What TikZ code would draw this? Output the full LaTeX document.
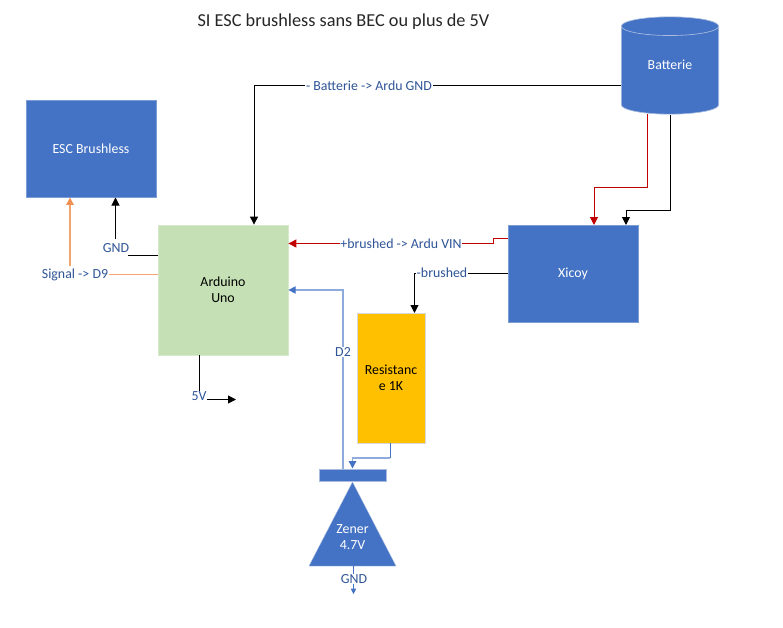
\documentclass[tikz,border=0pt]{standalone}
\usepackage{fontspec}
\setmainfont{Carlito}
\usetikzlibrary{shapes.geometric,arrows.meta}
\definecolor{mso}{HTML}{4472C4}
\definecolor{msoedge}{HTML}{A9BCE0}
\definecolor{lab}{HTML}{2F5597}
\definecolor{grn}{HTML}{C5E0B4}
\definecolor{yel}{HTML}{FFC000}
\definecolor{org}{HTML}{ED7D31}
\definecolor{rd}{HTML}{C00000}
\tikzset{
 every node/.style={font=\fontsize{10.4pt}{12pt}\selectfont},
 box/.style={rectangle,draw=#1!70!white,line width=.6pt,inner sep=0pt,align=center},
 bluebox/.style={box=mso,fill=mso,text=white},
 lbl/.style={fill=white,text=lab,inner sep=.6pt,outer sep=0pt},
 wire/.style={line width=.75pt,-{Triangle[length=6pt,width=6pt]}},
 plain/.style={line width=.75pt},
}
\begin{document}
\begin{tikzpicture}[x=0.75pt,y=-0.75pt]
\useasboundingbox (0,0) rectangle (783,628);
\node[font=\fontsize{13.7pt}{16pt}\selectfont,text=black!85] (title) at (343.5,22) {SI ESC brushless sans BEC ou plus de 5V};
\node[bluebox,minimum width=97.5pt,minimum height=72.75pt] (esc) at (91,148.5) {ESC Brushless};
\node[box=grn,fill=grn,minimum width=97.5pt,minimum height=97.5pt] (ard) at (223,290) {Arduino\\Uno};
\node[bluebox,minimum width=97.5pt,minimum height=72.75pt] (xic) at (573,273.5) {Xicoy};
\node[rectangle,fill=yel,draw=black!15,line width=.6pt,minimum width=51pt,minimum height=97.5pt,inner sep=0pt,anchor=north] (res) at (391,313) {};
\node[align=center] (restxt) at (391,378) {Resistanc\\e 1K};
\node[rectangle,fill=mso,draw=msoedge,line width=.3pt,inner sep=0pt,minimum width=50.5pt,minimum height=9pt] (bar) at (352.5,475) {};
\coordinate (zena) at (352.5,482);
\coordinate (zenb) at (353.5,566);
\fill[mso,draw=msoedge,line width=.3pt] (zena) -- (396,566) -- (309,566) -- cycle;
\node[text=white,align=center] (zentxt) at (352.5,537.5) {Zener\\4.7V};
\node[cylinder,shape border rotate=90,aspect=.42,fill=mso,draw=msoedge,line width=.5pt,inner sep=0pt,minimum width=73pt,minimum height=73pt,anchor=shape center] (bat) at (670,65.5) {\phantom{Batterie}};
\node[text=white] (battxt) at (670,65) {Batterie};
% labels
\node[lbl] (lbatt) at (369,85.5) {- Batterie -> Ardu GND};
\node[lbl] (lvin) at (401,243.5) {+brushed -> Ardu VIN};
\node[lbl] (lbr) at (442,273) {-brushed};
\node[lbl] (ld2) at (343,352) {D2};
\node[lbl] (lsig) at (75,274.5) {Signal -> D9};
\node[lbl] (lgnd) at (116,248) {GND};
\node[lbl] (l5v) at (199,396) {5V};
\node[lbl] (lzg) at (354,579) {GND};
\coordinate (end5v) at (236,399.5);
\coordinate (endzg) at (353.5,594);
% connectors
\draw[plain] (bat.west |- lbatt) -- (lbatt);
\draw[wire] (lbatt) -- (254,85.5) -- (ard.north -| 254,0);
\draw[wire,rd] (647,114) -- (647,187) -- (594,187) -- (594,225);
\draw[wire] (670,115) -- (670,210) -- (626,210) -- (626,225);
\draw[plain,rd] (xic.west |- 0,238.5) -- (493,238.5) -- (493,243.5) -- (lvin);
\draw[wire,rd] (lvin) -- (ard.east |- lvin);
\draw[plain] (xic.west |- lbr) -- (lbr);
\draw[wire] (lbr.west) -- (414.5,273) -- (414.5,313);
\draw[line width=1pt,mso!60!white] (bar.north -| ld2) -- (ld2);
\draw[line width=1pt,mso!60!white,-{Triangle[length=5.5pt,width=5.5pt,fill=mso,color=mso]}] (ld2) -- (343,290) -- (ard.east |- 0,290);
\draw[plain,mso] (390,443) -- (390,458);
\draw[line width=1pt,mso!60!white,-{Triangle[length=5.5pt,width=5.5pt,fill=mso,color=mso]}] (390,458) -- (352.5,458) -- (352.5,468.5);
\draw[line width=.9pt,org!70!white] (ard.west |- lsig) -- (lsig);
\draw[line width=1pt,org!70!white,-{Triangle[length=5.5pt,width=5.5pt,color=org!85!white]}] (70,266) -- (70,197.5);
\draw[plain] (ard.west |- 0,255) -- (128,255);
\draw[wire] (115.5,239) -- (115.5,197.5);
\draw[plain] (199,355) -- (l5v.north -| 199,0);
\draw[wire] (l5v.east |- end5v) -- (end5v);
\draw[plain,mso] (zenb) -- (lzg.north -| zenb);
\draw[mso,-{Triangle[length=4pt,width=4pt]},line width=.5pt] (lzg.south -| zenb) -- (endzg);
\end{tikzpicture}
\end{document}
